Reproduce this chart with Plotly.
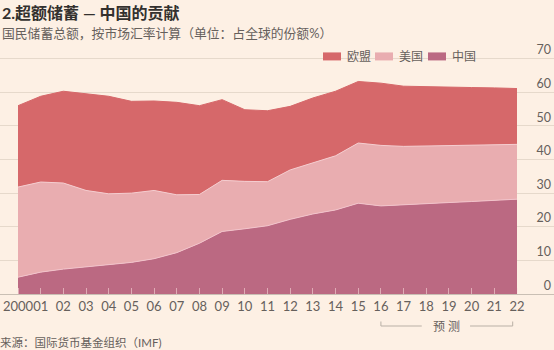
import plotly.graph_objects as go

years = list(range(2000, 2023))
tick_text = ["2000"] + [f"{y % 100:02d}" for y in range(2001, 2023)]

# Shares of global national savings (%)
china = [5.0, 6.5, 7.4, 8.1, 8.7, 9.4, 10.5, 12.3, 15.1, 18.6, 19.4, 20.3,
         22.2, 23.8, 25.0, 27.0, 26.2, 26.6, 27.0, 27.2, 27.5, 27.8, 28.2]
china_us_top = [31.8, 33.3, 33.0, 30.8, 29.8, 30.0, 30.8, 29.5, 29.6, 33.8, 33.5, 33.4,
                36.9, 38.9, 41.1, 44.9, 44.2, 43.9, 44.0, 44.1, 44.2, 44.3, 44.5]
total_top = [56.0, 58.8, 60.3, 59.6, 58.8, 57.3, 57.4, 57.0, 56.0, 57.8, 54.8, 54.5,
             55.8, 58.3, 60.3, 63.2, 62.7, 61.8, 61.6, 61.5, 61.4, 61.3, 61.1]
us = [round(a - b, 2) for a, b in zip(china_us_top, china)]
eu = [round(a - b, 2) for a, b in zip(total_top, china_us_top)]

series_names = ["中国", "美国", "欧盟"]
series_vals = [china, us, eu]
fill_colors = ["#bb6982", "#e9adb0", "#d6686a"]
line_colors = ["#f2c3cb", "#f5cdd0", "#d6686a"]

BG = "#fdf0e4"
TXT = "#66605c"
FONT = "Lato, Noto Sans CJK SC, sans-serif"

fig = go.Figure()
for name, vals, fc, lc in zip(series_names, series_vals, fill_colors, line_colors):
    fig.add_trace(go.Scatter(
        x=years, y=vals, name=name, mode="lines", stackgroup="one",
        fillcolor=fc, line=dict(color=lc, width=1), showlegend=False,
        hoverinfo="skip"))

H = 350
plot_bot = 294.0
unit_px = (294.0 - 58.7) / 70.0
y_top = 80.0
plot_top = plot_bot - y_top * unit_px
ph = plot_bot - plot_top


def py(px):
    return (plot_bot - px) / ph


annotations = [
    dict(text="2.超额储蓄 — 中国的贡献", x=0, y=py(13), xref="paper", yref="paper",
         xanchor="left", yanchor="middle", showarrow=False,
         font=dict(size=16, color="#33302e", family=FONT, weight="bold")),
    dict(text="国民储蓄总额，按市场汇率计算（单位：占全球的份额%）", x=0, y=py(33.5),
         xref="paper", yref="paper", xanchor="left", yanchor="middle", showarrow=False,
         font=dict(size=12.8, color=TXT, family=FONT)),
    dict(text="来源：国际货币基金组织（IMF)", x=-0.004, y=py(342), xref="paper", yref="paper",
         xanchor="left", yanchor="middle", showarrow=False,
         font=dict(size=11.5, color=TXT, family=FONT)),
    dict(text="预 测", x=2018.87, y=py(326.5), xref="x", yref="paper",
         xanchor="center", yanchor="middle", showarrow=False,
         font=dict(size=12, color=TXT, family=FONT)),
]

shapes = []
# legend (manual, compact like the reference)
legend_items = [("欧盟", fill_colors[2], 323), ("美国", fill_colors[1], 375), ("中国", fill_colors[0], 428)]
for label, col, x0 in legend_items:
    shapes.append(dict(type="rect", xref="paper", yref="paper",
                       x0=x0 / 554, x1=(x0 + 18) / 554, y0=py(60.5), y1=py(52.5),
                       fillcolor=col, line=dict(width=0)))
    annotations.append(dict(text=label, x=(x0 + 22) / 554, y=py(56.5), xref="paper", yref="paper",
                            xanchor="left", yanchor="middle", showarrow=False,
                            font=dict(size=12, color=TXT, family=FONT)))

# forecast bracket
bc = "#b9b0a6"
shapes.append(dict(type="path", xref="x", yref="paper",
                   path=f"M 2016,{py(321.5)} L 2016,{py(326)} L 2017.8,{py(326)}",
                   line=dict(color=bc, width=1)))
shapes.append(dict(type="path", xref="x", yref="paper",
                   path=f"M 2019.93,{py(326)} L 2021.81,{py(326)} L 2021.81,{py(321.5)}",
                   line=dict(color=bc, width=1)))

px_per_year = (517 - 18) / 22
fig.update_layout(
    width=554, height=H,
    margin=dict(l=0, r=0, t=plot_top, b=H - plot_bot, pad=0),
    paper_bgcolor=BG, plot_bgcolor=BG,
    font=dict(family=FONT, color=TXT),
    showlegend=False,
    annotations=annotations,
    shapes=shapes,
    xaxis=dict(
        range=[2000 - 18 / px_per_year, 2022 + 37 / px_per_year],
        tickmode="array", tickvals=years, ticktext=tick_text, tickangle=0,
        ticks="inside", ticklen=6, tickcolor="rgba(255,225,225,0.55)", tickwidth=1,
        showgrid=False, zeroline=False,
        showline=True, linecolor="#c9bfb4", linewidth=1,
        tickfont=dict(size=13, color=TXT, family=FONT),
        fixedrange=True,
    ),
    yaxis=dict(
        range=[0, y_top], side="right", tickvals=[0, 10, 20, 30, 40, 50, 60, 70],
        ticklabelposition="inside top",
        showgrid=True, gridcolor="#e6d9cb", gridwidth=1,
        zeroline=False, showline=False, ticks="",
        tickfont=dict(size=12.5, color=TXT, family=FONT),
        fixedrange=True,
    ),
)

fig.write_html("out.html")
